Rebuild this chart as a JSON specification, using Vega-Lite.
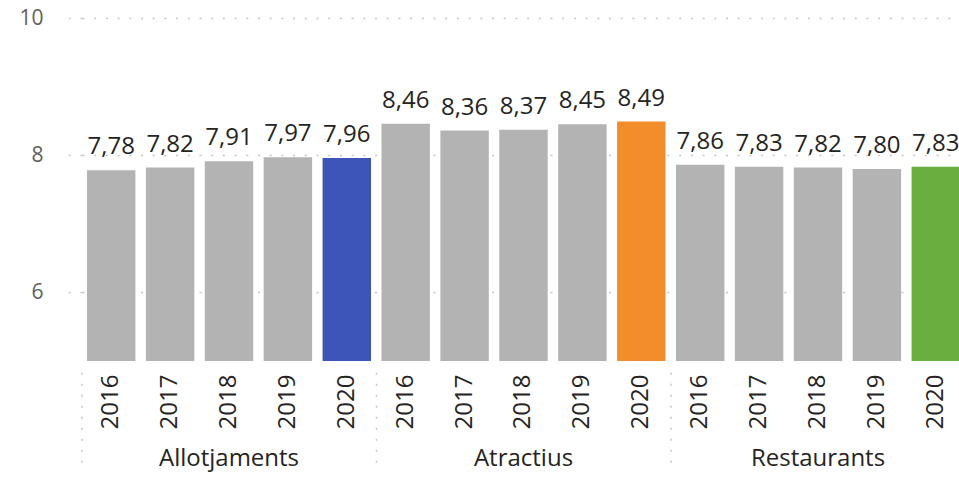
{
  "$schema": "https://vega.github.io/schema/vega-lite/v6.json",
  "width": 878,
  "height": 343,
  "padding": {"left": 18, "top": 7, "right": 0, "bottom": 0},
  "autosize": {"type": "pad"},
  "background": "white",
  "config": {
    "view": {"stroke": null},
    "font": "Segoe UI, Open Sans, sans-serif",
    "locale": {"number": {"decimal": ",", "thousands": ".", "grouping": [3], "currency": ["", " €"]}}
  },
  "data": {
    "values": [
      {"group": "Allotjaments", "year": "2016", "key": "Allotjaments 2016", "value": 7.78},
      {"group": "Allotjaments", "year": "2017", "key": "Allotjaments 2017", "value": 7.82},
      {"group": "Allotjaments", "year": "2018", "key": "Allotjaments 2018", "value": 7.91},
      {"group": "Allotjaments", "year": "2019", "key": "Allotjaments 2019", "value": 7.97},
      {"group": "Allotjaments", "year": "2020", "key": "Allotjaments 2020", "value": 7.96},
      {"group": "Atractius", "year": "2016", "key": "Atractius 2016", "value": 8.46},
      {"group": "Atractius", "year": "2017", "key": "Atractius 2017", "value": 8.36},
      {"group": "Atractius", "year": "2018", "key": "Atractius 2018", "value": 8.37},
      {"group": "Atractius", "year": "2019", "key": "Atractius 2019", "value": 8.45},
      {"group": "Atractius", "year": "2020", "key": "Atractius 2020", "value": 8.49},
      {"group": "Restaurants", "year": "2016", "key": "Restaurants 2016", "value": 7.86},
      {"group": "Restaurants", "year": "2017", "key": "Restaurants 2017", "value": 7.83},
      {"group": "Restaurants", "year": "2018", "key": "Restaurants 2018", "value": 7.82},
      {"group": "Restaurants", "year": "2019", "key": "Restaurants 2019", "value": 7.80},
      {"group": "Restaurants", "year": "2020", "key": "Restaurants 2020", "value": 7.83}
    ]
  },
  "encoding": {
    "x": {
      "field": "key",
      "type": "nominal",
      "sort": null,
      "title": null,
      "scale": {"paddingInner": 0.178, "paddingOuter": 0.0424, "align": 1},
      "axis": {
        "labelExpr": "slice(datum.value, -4)",
        "labelAngle": 270,
        "labelAlign": "right",
        "labelBaseline": "middle",
        "labelFontSize": 24,
        "labelColor": "#252423",
        "labelPadding": 13,
        "ticks": false,
        "domain": false,
        "grid": false
      }
    }
  },
  "layer": [
    {
      "mark": {"type": "bar"},
      "encoding": {
        "y": {
          "field": "value",
          "type": "quantitative",
          "title": null,
          "scale": {"domain": [5, 10], "nice": false, "zero": false},
          "axis": {
            "values": [6, 8, 10],
            "format": "d",
            "domain": false,
            "labelFontSize": 21,
            "labelColor": "#605E5C",
            "labelPadding": 20,
            "tickSize": 19,
            "tickColor": "#C8C6C4",
            "tickDash": [2, 9.7],
            "tickWidth": 1.5,
            "minExtent": 63,
            "maxExtent": 63,
            "grid": true,
            "gridColor": "#C8C6C4",
            "gridDash": [2, 9.7],
            "gridWidth": 1.5
          }
        },
        "y2": {"datum": 5},
        "color": {
          "condition": {"test": "datum.year != '2020'", "value": "#B3B3B3"},
          "field": "group",
          "type": "nominal",
          "scale": {"domain": ["Allotjaments", "Atractius", "Restaurants"], "range": ["#3D55B9", "#F18D2A", "#69AE3F"]},
          "legend": null
        }
      }
    },
    {
      "mark": {"type": "text", "baseline": "alphabetic", "dy": -16, "fontSize": 24, "color": "#252423"},
      "encoding": {
        "y": {"field": "value", "type": "quantitative"},
        "text": {"field": "value", "type": "quantitative", "format": ".2f"}
      }
    },
    {
      "transform": [{"filter": "datum.year == '2016'"}],
      "mark": {"type": "rule", "color": "#C8C6C4", "strokeDash": [2, 9], "strokeWidth": 1.5},
      "encoding": {
        "x": {"field": "key", "type": "nominal", "sort": null, "bandPosition": -0.103},
        "y": {"datum": 4.83, "type": "quantitative"},
        "y2": {"datum": 3.43}
      }
    },
    {
      "transform": [{"filter": "datum.year == '2018'"}],
      "mark": {"type": "text", "baseline": "middle", "fontSize": 24, "color": "#252423"},
      "encoding": {
        "y": {"datum": 3.57, "type": "quantitative"},
        "text": {"field": "group", "type": "nominal"}
      }
    }
  ]
}
